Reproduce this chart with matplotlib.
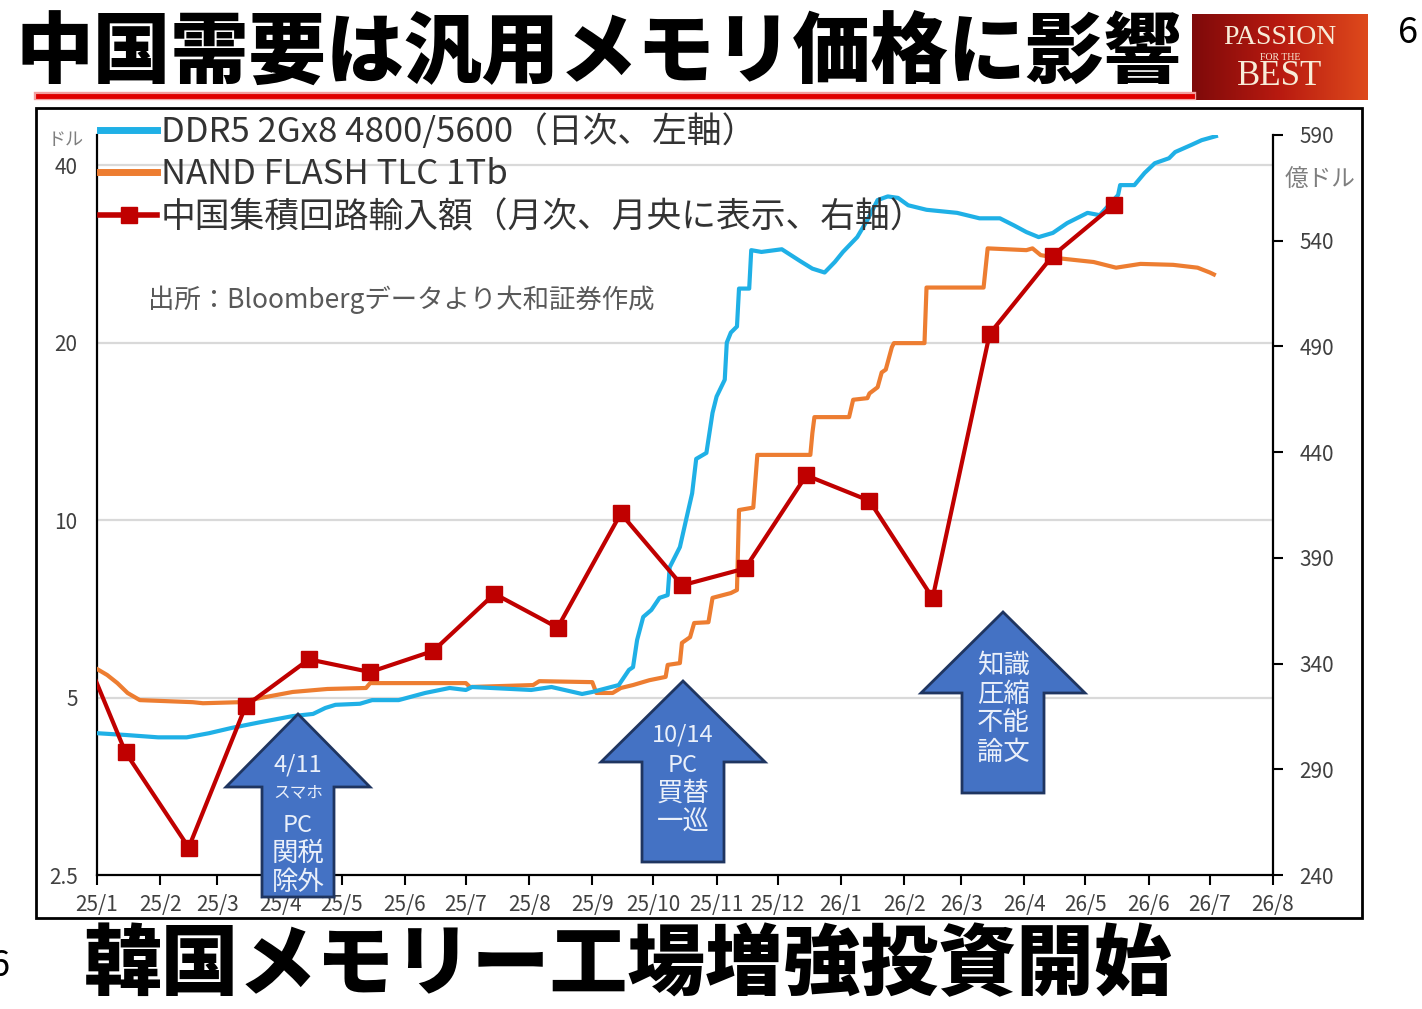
import pandas as pd
import matplotlib
matplotlib.use('Agg')
import matplotlib.pyplot as plt
from matplotlib.lines import Line2D
from matplotlib.patches import Rectangle, Polygon
from matplotlib.ticker import FixedLocator, FixedFormatter, NullLocator
import numpy as np

plt.rcParams['font.family'] = ['Noto Sans CJK JP', 'DejaVu Sans']

# DDR5 2Gx8 4800/5600 (日次, 左軸, ドル)
ddr5_dates = ['2025-01-01', '2025-01-15', '2025-01-31', '2025-02-14', '2025-02-25', '2025-03-08',
              '2025-03-22', '2025-04-07', '2025-04-17', '2025-04-23', '2025-04-28', '2025-05-10',
              '2025-05-16', '2025-05-29', '2025-06-11', '2025-06-23', '2025-07-01', '2025-07-04',
              '2025-08-02', '2025-08-12', '2025-08-27', '2025-09-01', '2025-09-14', '2025-09-19',
              '2025-09-21', '2025-09-23', '2025-09-26', '2025-09-30', '2025-10-04', '2025-10-08',
              '2025-10-09', '2025-10-14', '2025-10-17', '2025-10-20', '2025-10-22', '2025-10-27',
              '2025-10-30', '2025-11-01', '2025-11-05', '2025-11-06', '2025-11-08', '2025-11-11',
              '2025-11-12', '2025-11-17', '2025-11-18', '2025-11-23', '2025-12-03', '2025-12-12',
              '2025-12-18', '2025-12-24', '2025-12-29', '2026-01-02', '2026-01-09', '2026-01-14',
              '2026-01-19', '2026-01-24', '2026-01-29', '2026-02-03', '2026-02-12', '2026-02-27',
              '2026-03-10', '2026-03-20', '2026-03-27', '2026-04-02', '2026-04-08', '2026-04-15',
              '2026-04-22', '2026-05-02', '2026-05-08', '2026-05-17', '2026-05-18', '2026-05-25',
              '2026-05-30', '2026-06-04', '2026-06-11', '2026-06-14', '2026-06-22', '2026-06-27',
              '2026-07-04']
ddr5_values = [4.35, 4.32, 4.28, 4.28, 4.35, 4.44,
               4.54, 4.65, 4.69, 4.80, 4.86, 4.88,
               4.95, 4.95, 5.09, 5.19, 5.15, 5.21,
               5.15, 5.21, 5.07, 5.11, 5.25, 5.57,
               5.63, 6.26, 6.85, 7.04, 7.38, 7.46,
               8.32, 9.00, 10.0, 11.1, 12.7, 13.0,
               15.2, 16.2, 17.3, 20.0, 20.8, 21.3,
               24.7, 24.7, 28.7, 28.5, 28.8, 27.5,
               26.7, 26.3, 27.4, 28.5, 30.2, 32.3,
               34.9, 35.4, 35.2, 34.2, 33.6, 33.2,
               32.5, 32.5, 31.6, 30.8, 30.2, 30.7,
               31.9, 33.2, 32.9, 35.6, 37.0, 37.0,
               38.8, 40.3, 41.1, 42.1, 43.3, 44.1,
               44.8]

# NAND FLASH TLC 1Tb (左軸, ドル)
nand_dates = ['2025-01-01', '2025-01-06', '2025-01-11', '2025-01-16', '2025-01-22', '2025-02-17',
              '2025-02-22', '2025-03-12', '2025-03-22', '2025-04-07', '2025-04-24', '2025-05-13',
              '2025-05-15', '2025-07-01', '2025-07-03', '2025-08-03', '2025-08-06', '2025-09-01',
              '2025-09-03', '2025-09-11', '2025-09-15', '2025-09-21', '2025-09-29', '2025-10-07',
              '2025-10-08', '2025-10-14', '2025-10-15', '2025-10-19', '2025-10-21', '2025-10-28',
              '2025-10-30', '2025-11-08', '2025-11-11', '2025-11-12', '2025-11-19', '2025-11-21',
              '2025-12-17', '2025-12-18', '2025-12-19', '2026-01-05', '2026-01-07', '2026-01-14',
              '2026-01-15', '2026-01-19', '2026-01-21', '2026-01-23', '2026-01-26', '2026-01-27',
              '2026-02-11', '2026-02-12', '2026-03-12', '2026-03-14', '2026-04-02', '2026-04-05',
              '2026-04-09', '2026-04-18', '2026-05-05', '2026-05-16', '2026-05-28', '2026-06-13',
              '2026-06-25', '2026-07-01', '2026-07-03']
nand_values = [5.59, 5.46, 5.29, 5.09, 4.95, 4.91,
               4.89, 4.91, 4.99, 5.11, 5.17, 5.19,
               5.29, 5.29, 5.21, 5.25, 5.33, 5.31,
               5.09, 5.09, 5.19, 5.25, 5.35, 5.42,
               5.68, 5.72, 6.19, 6.33, 6.69, 6.71,
               7.38, 7.52, 7.61, 10.4, 10.5, 12.9,
               12.9, 14.05, 14.95, 14.95, 16.0, 16.1,
               16.4, 16.8, 17.8, 18.0, 19.65, 19.96,
               19.96, 24.8, 24.8, 28.9, 28.7, 28.9,
               28.15, 27.8, 27.4, 26.8, 27.2, 27.1,
               26.8, 26.3, 26.1]

# 中国集積回路輸入額 (月次, 月央に表示, 右軸, 億ドル)
ic_months = ['2024-12-15', '2025-01-15', '2025-02-15', '2025-03-15', '2025-04-15', '2025-05-15',
             '2025-06-15', '2025-07-15', '2025-08-15', '2025-09-15', '2025-10-15', '2025-11-15',
             '2025-12-15', '2026-01-15', '2026-02-15', '2026-03-15', '2026-04-15', '2026-05-15']
ic_values = [370, 298, 253, 320, 342, 336,
             346, 373, 357, 411, 377, 385,
             429, 417, 371, 496, 533, 557]

left_ticks = [2.5, 5, 10, 20, 40]
left_labels = ['2.5', '5', '10', '20', '40']
right_ticks = [240, 290, 340, 390, 440, 490, 540, 590]
month_ticks = pd.date_range('2025-01-01', '2026-08-01', freq='MS')
month_labels = [f'{d.year % 100}/{d.month}' for d in month_ticks]

blue = '#1fb0e6'
orange = '#ed7d31'
red = '#c00000'
grey_txt = '#404040'

W, H = 1422, 1009
fig = plt.figure(figsize=(W / 100, H / 100), dpi=100)
fig.patch.set_facecolor('white')


def fx(x):
    return x / W


def fy(y):
    return 1 - y / H


ax = fig.add_axes([fx(97), fy(875), fx(1273) - fx(97), fy(135) - fy(875)])
ax.patch.set_alpha(0)
ax.set_yscale('log')
ax.set_ylim(2.5, 45)
ax.set_xlim(pd.Timestamp('2025-01-01'), pd.Timestamp('2026-08-01'))

ax.plot(pd.to_datetime(nand_dates), nand_values, color=orange, lw=3, zorder=3)
ax.plot(pd.to_datetime(ddr5_dates), ddr5_values, color=blue, lw=3, zorder=4)

ax.yaxis.set_major_locator(FixedLocator(left_ticks))
ax.yaxis.set_major_formatter(FixedFormatter(left_labels))
ax.yaxis.set_minor_locator(NullLocator())
ax.tick_params(axis='y', length=0, pad=14, labelsize=15, labelcolor=grey_txt)
for v in left_ticks[1:]:
    ax.axhline(v, color='#d9d9d9', lw=1.6, zorder=1)

ax.xaxis.set_major_locator(FixedLocator(pd.to_datetime(month_ticks).map(matplotlib.dates.date2num)))
ax.xaxis.set_major_formatter(FixedFormatter(month_labels))
ax.xaxis.set_minor_locator(NullLocator())
ax.tick_params(axis='x', direction='out', length=7, width=1.5, pad=7, labelsize=15, labelcolor=grey_txt)

for s in ['top', 'right']:
    ax.spines[s].set_visible(False)
for s in ['left', 'bottom']:
    ax.spines[s].set_linewidth(1.6)

ax2 = ax.twinx()
ax2.set_ylim(240, 590)
ax2.plot(pd.to_datetime(ic_months), ic_values, color=red, lw=3, marker='s', markersize=12, zorder=5)
ax2.yaxis.set_major_locator(FixedLocator(right_ticks))
ax2.tick_params(axis='y', direction='out', length=7, width=1.5, pad=12, labelsize=15, labelcolor=grey_txt)
for s in ['top', 'left', 'bottom']:
    ax2.spines[s].set_visible(False)
ax2.spines['right'].set_linewidth(1.6)

handles = [Line2D([], [], color=blue, lw=5),
           Line2D([], [], color=orange, lw=5),
           Line2D([], [], color=red, lw=4, marker='s', markersize=12)]
labels = ['DDR5 2Gx8 4800/5600（日次、左軸）', 'NAND FLASH TLC 1Tb',
          '中国集積回路輸入額（月次、月央に表示、右軸）']
leg = ax2.legend(handles, labels, loc='upper left', bbox_to_anchor=(fx(100), fy(114)),
                 bbox_transform=fig.transFigure, frameon=False, fontsize=25,
                 handlelength=1.65, handletextpad=0.1, labelspacing=0.22,
                 borderpad=0, borderaxespad=0, labelcolor='#333333')

fig.text(fx(148), fy(300), '出所：Bloombergデータより大和証券作成', fontsize=19,
         color='#595959', va='center', ha='left')
fig.text(fx(48), fy(140), 'ドル', fontsize=13, color='#7f7f7f', va='center', ha='left')
fig.text(fx(1285), fy(180), '億ドル', fontsize=17, color='#7f7f7f', va='center', ha='left')

# chart frame
fig.add_artist(Rectangle((fx(36), fy(918)), fx(1362) - fx(36), fy(108) - fy(918),
                         transform=fig.transFigure, fill=False, ec='black', lw=2, zorder=0))

# title and underline
fig.text(fx(16), fy(55), '中国需要は汎用メモリ価格に影響', fontsize=56, weight='heavy',
         va='center', ha='left')
fig.add_artist(Line2D([fx(38), fx(1192)], [fy(96), fy(96)], color='#f2a0a0', lw=6,
                      transform=fig.transFigure))
fig.add_artist(Line2D([fx(38), fx(1192)], [fy(96), fy(96)], color='#e00000', lw=3.5,
                      transform=fig.transFigure))

# logo
lax = fig.add_axes([fx(1192), fy(100), fx(1368) - fx(1192), fy(14) - fy(100)])
grad = np.linspace(0, 1, 256).reshape(1, -1)
cmap = matplotlib.colors.LinearSegmentedColormap.from_list('logo', ['#7e0a0a', '#b81a10', '#de4a1c'])
lax.imshow(grad, aspect='auto', cmap=cmap, extent=[0, 1, 0, 1])
lax.set_xlim(0, 1)
lax.set_ylim(0, 1)
lax.axis('off')
lax.text(0.5, 0.73, 'PASSION', fontsize=20, family='Liberation Serif', color='#f8ecd8',
         ha='center', va='center')
lax.text(0.5, 0.50, 'FOR THE', fontsize=7, family='Liberation Serif', color='#f8ecd8',
         ha='center', va='center')
lax.text(0.5, 0.27, 'BEST', fontsize=25, family='Liberation Serif', color='#f8ecd8',
         ha='center', va='center')

fig.text(fx(1398), fy(33), '6', fontsize=26, va='center', ha='left')
fig.text(fx(-10), fy(966), '6', fontsize=26, va='center', ha='left')

# bottom caption
fig.text(fx(84), fy(966), '韓国メモリー工場増強投資開始', fontsize=56, weight='heavy',
         va='center', ha='left')


# block arrows
def block_arrow(tx, ty, hb, hw, sw, yb):
    pts = [(tx, ty), (tx + hw, hb), (tx + sw, hb), (tx + sw, yb),
           (tx - sw, yb), (tx - sw, hb), (tx - hw, hb)]
    pts = [(fx(x), fy(y)) for x, y in pts]
    fig.add_artist(Polygon(pts, closed=True, transform=fig.transFigure,
                           fc='#4472c4', ec='#1f3560', lw=2, zorder=10))


arrow_txt = '#eaf0fa'
block_arrow(298, 714, 787, 72, 36, 897)
for txt, y, fs in [('4/11', 765, 17), ('スマホ', 793, 12), ('PC', 826, 17),
                   ('関税', 853, 19), ('除外', 882, 19)]:
    fig.text(fx(298), fy(y), txt, fontsize=fs, color=arrow_txt, ha='center', va='center', zorder=11)

block_arrow(683, 681, 762, 82, 41, 862)
for txt, y, fs in [('10/14', 735, 17), ('PC', 765, 17), ('買替', 793, 19), ('一巡', 822, 19)]:
    fig.text(fx(683), fy(y), txt, fontsize=fs, color=arrow_txt, ha='center', va='center', zorder=11)

block_arrow(1003, 612, 693, 82, 41, 793)
for txt, y in [('知識', 665), ('圧縮', 694), ('不能', 722), ('論文', 752)]:
    fig.text(fx(1003), fy(y), txt, fontsize=19, color=arrow_txt, ha='center', va='center', zorder=11)

fig.savefig('out.png', dpi=100, facecolor='white')
